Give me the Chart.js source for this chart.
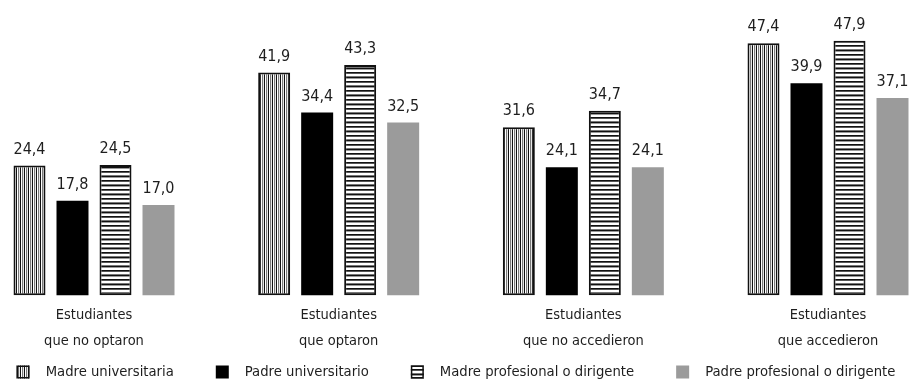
<!DOCTYPE html>
<html>
<head>
<meta charset="utf-8">
<script src="https://cdn.jsdelivr.net/npm/chart.js@4.4.1/dist/chart.umd.min.js"></script>
<style>
  html, body { margin: 0; padding: 0; background: #ffffff; }
  #wrap { width: 912px; height: 387px; }
</style>
</head>
<body>
<div id="wrap"><canvas id="chart" width="912" height="387"></canvas></div>
<script>
// Groups of students (two-line axis labels)
const categories = [
  ['Estudiantes', 'que no optaron'],
  ['Estudiantes', 'que optaron'],
  ['Estudiantes', 'que no accedieron'],
  ['Estudiantes', 'que accedieron']
];

// Series names
const seriesNames = [
  'Madre universitaria',
  'Padre universitario',
  'Madre profesional o dirigente',
  'Padre profesional o dirigente'
];

// Percentages per group
const madreUniversitaria = [24.4, 41.9, 31.6, 47.4];
const padreUniversitario = [17.8, 34.4, 24.1, 39.9];
const madreProfesional   = [24.5, 43.3, 34.7, 47.9];
const padreProfesional   = [17.0, 32.5, 24.1, 37.1];

const FONT = "'Liberation Sans Narrow', 'DejaVu Sans Condensed', 'Roboto Condensed', Arial, sans-serif";
const TEXT = '#1e1e1e';

// Hatch patterns for the striped series
function verticalStripes() {
  const c = document.createElement('canvas');
  c.width = 4; c.height = 4;
  const g = c.getContext('2d');
  const cols = ['#111111', '#ffffff', '#7a7a7a', '#e6e6e6'];
  cols.forEach((col, i) => { g.fillStyle = col; g.fillRect(i, 0, 1, 4); });
  return g.createPattern(c, 'repeat');
}
function horizontalStripes() {
  const c = document.createElement('canvas');
  c.width = 4; c.height = 9;
  const g = c.getContext('2d');
  const rows = ['#111111', '#555555', '#ffffff', '#ffffff', '#777777', '#111111', '#9a9a9a', '#ffffff', '#ffffff'];
  rows.forEach((col, i) => { g.fillStyle = col; g.fillRect(0, i, 4, 1); });
  return g.createPattern(c, 'repeat');
}

const vPat = verticalStripes();
const hPat = horizontalStripes();

function fmt(v) {
  return v.toFixed(1).replace('.', ',');
}

// Value labels above each bar
const valueLabels = {
  id: 'valueLabels',
  afterDatasetsDraw(chart) {
    const ctx = chart.ctx;
    ctx.save();
    ctx.font = "16px " + FONT;
    ctx.fillStyle = TEXT;
    ctx.textAlign = 'center';
    ctx.textBaseline = 'bottom';
    chart.data.datasets.forEach((ds, di) => {
      const meta = chart.getDatasetMeta(di);
      meta.data.forEach((bar, i) => {
        ctx.fillText(fmt(ds.data[i]), bar.x, bar.y - 8);
      });
    });
    ctx.restore();
  }
};

// Single-row legend along the bottom edge
const bottomLegend = {
  id: 'bottomLegend',
  afterDraw(chart) {
    const ctx = chart.ctx;
    const box = 13, textGap = 16, itemGap = 42;
    const cy = 372;
    ctx.save();
    ctx.font = "14.7px " + FONT;
    const items = chart.data.datasets.map(ds => ({
      ds, w: box + textGap + ctx.measureText(ds.label).width
    }));
    const total = items.reduce((s, it) => s + it.w, 0) + itemGap * (items.length - 1);
    let x = (chart.width - total) / 2;
    items.forEach(it => {
      const ds = it.ds;
      ctx.fillStyle = ds.backgroundColor;
      ctx.fillRect(x, cy - box / 2, box, box);
      if (ds.borderWidth) {
        ctx.lineWidth = 1.5;
        ctx.strokeStyle = ds.borderColor;
        ctx.strokeRect(x + 0.75, cy - box / 2 + 0.75, box - 1.5, box - 1.5);
      }
      ctx.fillStyle = TEXT;
      ctx.textAlign = 'left';
      ctx.textBaseline = 'middle';
      ctx.fillText(ds.label, x + box + textGap, cy);
      x += it.w + itemGap;
    });
    ctx.restore();
  }
};

const common = { clip: false, borderSkipped: false };

new Chart(document.getElementById('chart'), {
  type: 'bar',
  data: {
    labels: categories,
    datasets: [
      Object.assign({ label: seriesNames[0], data: madreUniversitaria, backgroundColor: vPat, borderColor: '#111111', borderWidth: 2 }, common),
      Object.assign({ label: seriesNames[1], data: padreUniversitario, backgroundColor: '#000000', borderWidth: 0 }, common),
      Object.assign({ label: seriesNames[2], data: madreProfesional, backgroundColor: hPat, borderColor: '#111111', borderWidth: 2 }, common),
      Object.assign({ label: seriesNames[3], data: padreProfesional, backgroundColor: '#9b9b9b', borderWidth: 0 }, common)
    ]
  },
  options: {
    responsive: false,
    animation: false,
    devicePixelRatio: 1,
    layout: { padding: { left: 94, right: 84, top: 29.5, bottom: 26 } },
    datasets: {
      bar: { categoryPercentage: 0.703, barPercentage: 0.744 }
    },
    plugins: {
      legend: { display: false },
      tooltip: { enabled: false }
    },
    scales: {
      x: {
        offset: false,
        grid: { display: false, drawTicks: false },
        border: { display: false },
        ticks: {
          padding: 6,
          color: TEXT,
          maxRotation: 0,
          autoSkip: false,
          font: { family: FONT, size: 14.5, lineHeight: 1.85 }
        }
      },
      y: {
        display: false,
        min: 0,
        max: 50
      }
    }
  },
  plugins: [valueLabels, bottomLegend]
});
</script>
</body>
</html>
